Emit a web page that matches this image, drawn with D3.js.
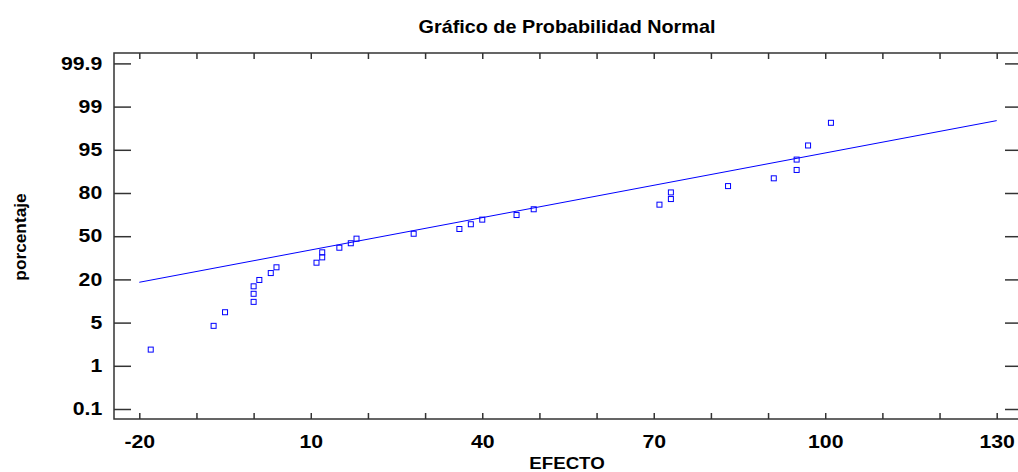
<!DOCTYPE html>
<html>
<head>
<meta charset="utf-8">
<script src="https://cdn.jsdelivr.net/npm/d3@7"></script>
<style>
  body { margin: 0; background: #fff; }
  svg { display: block; font-family: Arial, "Liberation Sans", sans-serif; }
  .tick text { font-weight: bold; fill: #000; }
</style>
</head>
<body>
<svg id="chart" width="1018" height="472"></svg>
<script>
// effects (x) and their plotted percentage (y)
var efecto = [-18, -7, -5, 0, 0, 0, 1, 3, 4, 11, 12, 12, 15, 17, 18, 28,
    36, 38, 40, 46, 49, 71, 73, 73, 83, 91, 95, 95, 97, 101];
var porcentaje = [2.5, 4.7, 8.6, 12.2, 15.0, 17.6, 19.8, 24.4, 28.4, 31.6, 35.3, 38.8,
    42.0, 45.1, 48.3, 51.7, 55.0, 58.3, 61.5, 64.7, 68.7, 71.9, 75.8, 80.2, 82.4,
    85.1, 88.0, 91.6, 95.4, 97.5];
// fitted reference line end points [efecto, porcentaje]
var lineaRef = [[-20, 19.0], [130, 97.7]];
var yTickLabels = [0.1, 1, 5, 20, 50, 80, 95, 99, 99.9];
var xTickLabels = [-20, 10, 40, 70, 100, 130];
var xMinorTicks = d3.range(-20, 131, 10);

var FRAME = { left: 114, right: 1022, top: 53, bottom: 419 };
var AXIS_COLOR = '#333';
var MARK_COLOR = '#0000ff';
// the original text is drawn a little wider than Arial
var STRETCH = 'scale(1.18,1)';

var svg = d3.select('#chart');

var xScale = d3.scaleLinear().domain([-20, 130]).range([139.3, 996.7]);
// probability axis: labels sit at equal steps, so use a piecewise scale
var yScale = d3.scaleLinear().
    domain(yTickLabels).
    range(yTickLabels.map(function (d, i) { return 409 - i * 43.2; }));

// frame
svg.append('rect').
    attr('x', FRAME.left).attr('y', FRAME.top).
    attr('width', FRAME.right - FRAME.left).attr('height', FRAME.bottom - FRAME.top).
    attr('fill', 'none').attr('stroke', AXIS_COLOR).attr('stroke-width', 1.5);

var fmtX = function (d) { return xTickLabels.indexOf(d) >= 0 ? d : ''; };

var xAxis = svg.append('g').
    attr('transform', 'translate(0,' + FRAME.bottom + ')').
    call(d3.axisBottom(xScale).tickValues(xMinorTicks).tickFormat(fmtX).tickSizeInner(-6).tickSizeOuter(0).tickPadding(16));
var xAxisTop = svg.append('g').
    attr('transform', 'translate(0,' + FRAME.top + ')').
    call(d3.axisTop(xScale).tickValues(xMinorTicks).tickFormat('').tickSizeInner(-6).tickSizeOuter(0));
var yAxis = svg.append('g').
    attr('transform', 'translate(' + FRAME.left + ',0)').
    call(d3.axisLeft(yScale).tickValues(yTickLabels).tickFormat(d3.format('')).tickSizeInner(-17).tickSizeOuter(0).tickPadding(10));
var yAxisRight = svg.append('g').
    attr('transform', 'translate(' + FRAME.right + ',0)').
    call(d3.axisRight(yScale).tickValues(yTickLabels).tickFormat('').tickSizeInner(-17).tickSizeOuter(0));

[xAxis, xAxisTop, yAxis, yAxisRight].forEach(function (g) {
    g.select('.domain').remove();
    g.selectAll('.tick line').attr('stroke', AXIS_COLOR).attr('stroke-width', 1.5);
    g.selectAll('.tick text').style('font-size', '18px').attr('transform', STRETCH);
});

// reference line
svg.append('line').
    attr('x1', xScale(lineaRef[0][0])).attr('y1', yScale(lineaRef[0][1])).
    attr('x2', xScale(lineaRef[1][0])).attr('y2', yScale(lineaRef[1][1])).
    attr('stroke', MARK_COLOR).attr('stroke-width', 1);

// points
svg.append('g').selectAll('rect').
    data(efecto.map(function (d, i) { return [d, porcentaje[i]]; })).
    enter().append('rect').
    attr('x', function (d) { return xScale(d[0]) - 2.5; }).
    attr('y', function (d) { return yScale(d[1]) - 2.5; }).
    attr('width', 5).attr('height', 5).
    attr('fill', 'none').attr('stroke', MARK_COLOR).attr('stroke-width', 1);

// titles
svg.append('text').
    attr('transform', 'translate(567,33)scale(1.1,1)').attr('text-anchor', 'middle').
    style('font-size', '18px').style('font-weight', 'bold').
    text('Gráfico de Probabilidad Normal');
svg.append('text').
    attr('transform', 'translate(567,469)scale(1.1,1)').attr('text-anchor', 'middle').
    style('font-size', '17px').style('font-weight', 'bold').
    text('EFECTO');
svg.append('text').
    attr('transform', 'translate(26,237)rotate(-90)scale(1.08,1)').attr('text-anchor', 'middle').
    style('font-size', '16px').style('font-weight', 'bold').
    text('porcentaje');
</script>
</body>
</html>
